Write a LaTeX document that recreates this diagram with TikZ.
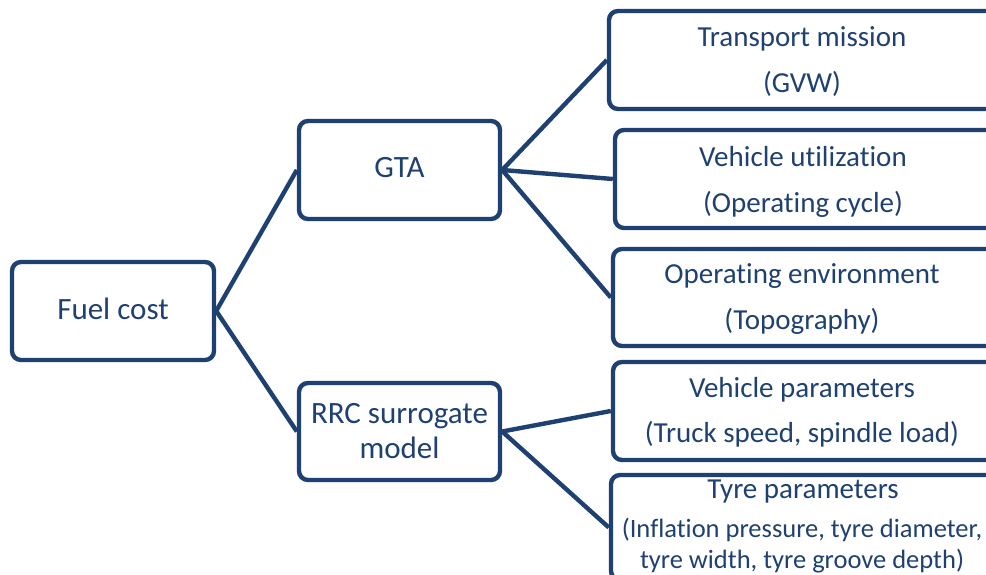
\documentclass[tikz,border=0pt]{standalone}
\usepackage{fontspec}
\setmainfont{Carlito}[Ligatures=NoCommon]
\definecolor{navy}{HTML}{1F4172}
\begin{document}
\begin{tikzpicture}[x=1pt,y=-1pt,
  box/.style={draw=navy, line width=4.4pt, rounded corners=9pt, inner sep=0pt, fill=white},
  txt/.style={text=navy, anchor=base, inner sep=0pt, font=\fontsize{29}{34}\selectfont},
  big/.style={txt, font=\fontsize{31}{36}\selectfont},
  small/.style={txt, font=\fontsize{26.5}{32}\selectfont},
  link/.style={draw=navy, line width=4.4pt, line join=round}]
\useasboundingbox (0,0) rectangle (986,575);
\clip (0,0) rectangle (986,575);

% root and middle level
\node[box, minimum width=202pt, minimum height=98pt] (fuel) at (113,311) {};
\node[box, minimum width=201pt, minimum height=98pt] (gta)  at (399.5,170) {};
\node[box, minimum width=201pt, minimum height=97pt] (rrc)  at (399.5,431.5) {};

% right-hand column (runs past the right edge)
\node[box, minimum width=386pt, minimum height=98pt]  (mission) at (802,60) {};
\node[box, minimum width=380pt, minimum height=98pt]  (util)    at (805,179) {};
\node[box, minimum width=382pt, minimum height=97pt]  (env)     at (804,297.5) {};
\node[box, minimum width=382pt, minimum height=98pt]  (vpar)    at (804,411) {};
\node[box, minimum width=384pt, minimum height=105pt] (tpar)    at (803,527.5) {};

% connectors
\draw[link] (fuel.east) -- (gta.west);
\draw[link] (fuel.east) -- (rrc.west);
\draw[link] (gta.east) -- (mission.west);
\draw[link] (gta.east) -- (util.west);
\draw[link] (gta.east) -- (env.west);
\draw[link] (rrc.east) -- (vpar.west);
\draw[link] (rrc.east) -- (tpar.west);

% labels
\node[big] (fuel-t) at (113,319) {Fuel cost};
\node[big] (gta-t)  at (399.5,178) {GTA};
\node[big] (rrc-a)  at (399.5,423) {RRC surrogate};
\node[big] (rrc-b)  at (399.5,458) {model};

\node[txt] (mission-a) at (802,47)  {Transport mission};
\node[txt] (mission-b) at (802,93)  {(GVW)};
\node[txt] (util-a)    at (803,167) {Vehicle utilization};
\node[txt] (util-b)    at (803,213) {(Operating cycle)};
\node[txt] (env-a)     at (802,283) {Operating environment};
\node[txt] (env-b)     at (802,329) {(Topography)};
\node[txt] (vpar-a)    at (802,397) {Vehicle parameters};
\node[txt] (vpar-b)    at (802,442) {(Truck speed, spindle load)};
\node[txt] (tpar-a)    at (803,498) {Tyre parameters};
\node[small] (tpar-b)  at (802,537) {(Inflation pressure, tyre diameter,};
\node[small] (tpar-c)  at (802,568) {tyre width, tyre groove depth)};
\end{tikzpicture}
\end{document}
